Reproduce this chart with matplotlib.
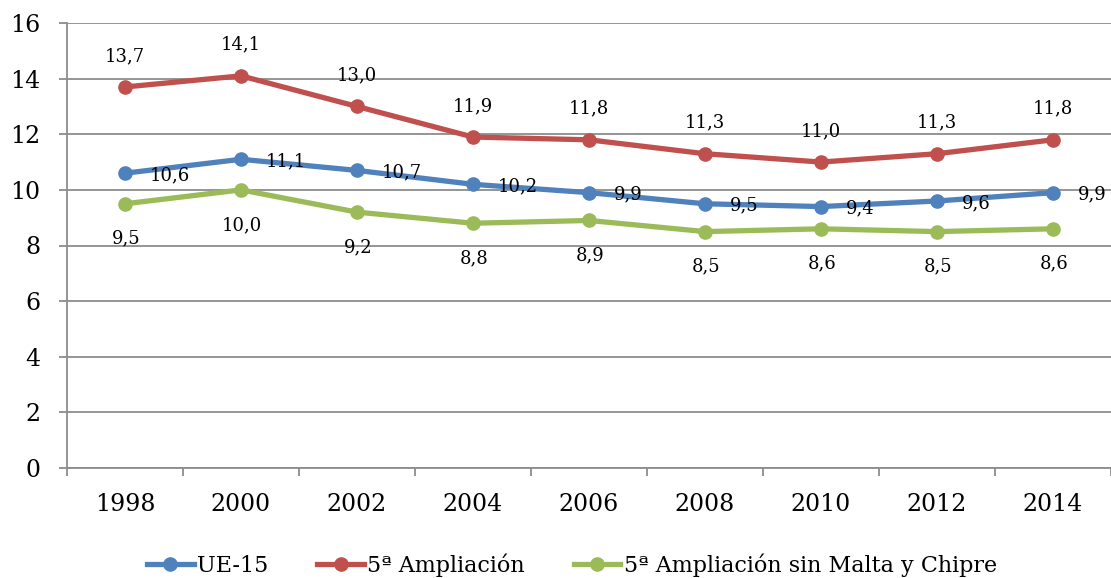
import matplotlib
matplotlib.use("Agg")
import matplotlib.pyplot as plt
import numpy as np

years = ["1998", "2000", "2002", "2004", "2006", "2008", "2010", "2012", "2014"]
ue15 = [10.6, 11.1, 10.7, 10.2, 9.9, 9.5, 9.4, 9.6, 9.9]
ampl5 = [13.7, 14.1, 13.0, 11.9, 11.8, 11.3, 11.0, 11.3, 11.8]
ampl5_sin = [9.5, 10.0, 9.2, 8.8, 8.9, 8.5, 8.6, 8.5, 8.6]
series_names = ["UE-15", "5ª Ampliación", "5ª Ampliación sin Malta y Chipre"]
colors = ["#4F81BD", "#C0504D", "#9BBB59"]
yticks = [0, 2, 4, 6, 8, 10, 12, 14, 16]

plt.rcParams['font.family'] = ['DejaVu Serif']

fig = plt.figure(figsize=(11.11, 5.78), dpi=100)
ax = fig.add_axes([67/1111, 1-468/578, 1-67/1111, (468-23)/578])

x = np.arange(len(years))
grid_col = "#8C8C8C"

ax.set_ylim(0, 16)
ax.set_xlim(-0.5, len(years) - 0.5)
ax.set_yticks(yticks)
ax.set_yticklabels([str(v) for v in yticks])
ax.yaxis.grid(True, color=grid_col, linewidth=1.3)
ax.set_axisbelow(True)

# x ticks at boundaries, labels at centers
ax.set_xticks(np.arange(len(years) + 1) - 0.5)
ax.set_xticklabels([])
ax.set_xticks(x, minor=True)
ax.set_xticklabels(years, minor=True, fontsize=17)
ax.tick_params(axis='x', which='major', length=6, width=1.3, color=grid_col, direction='out')
ax.tick_params(axis='x', which='minor', length=0, pad=18)
ax.tick_params(axis='y', which='major', length=6, width=1.3, color=grid_col,
               labelsize=17, pad=13)

for s in ['top', 'right']:
    ax.spines[s].set_visible(False)
for s in ['left', 'bottom']:
    ax.spines[s].set_color(grid_col)
    ax.spines[s].set_linewidth(1.3)

lines = []
for vals, name, c in zip([ue15, ampl5, ampl5_sin], series_names, colors):
    ln, = ax.plot(x, vals, color=c, lw=3.8, marker='o', markersize=9.5,
                  markerfacecolor=c, markeredgecolor=c, label=name, clip_on=False, zorder=3)
    lines.append(ln)

def fmt(v):
    return f"{v:.1f}".replace(".", ",")

for xi, v in zip(x, ue15):
    ax.annotate(fmt(v), (xi, v), xytext=(25, -2), textcoords='offset pixels',
                ha='left', va='center', fontsize=13, annotation_clip=False, zorder=5)
for xi, v in zip(x, ampl5):
    ax.annotate(fmt(v), (xi, v), xytext=(0, 31), textcoords='offset pixels',
                ha='center', va='center', fontsize=13, annotation_clip=False, zorder=5)
for xi, v in zip(x, ampl5_sin):
    ax.annotate(fmt(v), (xi, v), xytext=(1, -35), textcoords='offset pixels',
                ha='center', va='center', fontsize=13, annotation_clip=False, zorder=5)

leg = fig.legend(handles=lines, labels=series_names, loc='center',
                 bbox_to_anchor=(572/1111, 1-565/578), ncol=3, frameon=False,
                 fontsize=16, handlelength=2.1, handletextpad=0.15, columnspacing=2.2)

fig.savefig("out.png", dpi=100)
